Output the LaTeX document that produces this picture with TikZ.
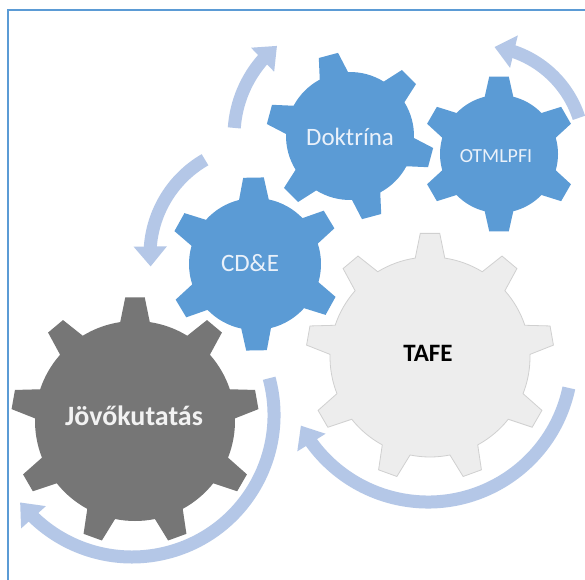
\documentclass[tikz,border=0pt]{standalone}
\usepackage{fontspec}
\setmainfont{Carlito}
\usetikzlibrary{arrows.meta,bending}
\definecolor{gblue}{HTML}{5B9BD5}
\definecolor{gdark}{HTML}{767676}
\definecolor{glight}{HTML}{EDEDED}
\definecolor{glightline}{HTML}{D0D0D0}
\definecolor{arrowblue}{HTML}{B4C7E7}
\definecolor{gtext}{HTML}{EAF1FA}
\definecolor{dtext}{HTML}{F2F2F2}
% #1 teeth, #2 rotation, #3 outer radius, #4 root radius, #5 tip half-angle, #6 base half-angle
\newcommand\gearpath[6]{(#2-#6:#4) \foreach \i [evaluate=\i as \a using #2+(\i-1)*360/#1] in {1,...,#1} { -- (\a-#6:#4) -- (\a-#5:#3) -- (\a+#5:#3) -- (\a+#6:#4) arc[start angle=\a+#6, end angle=\a+360/#1-#6, radius=#4] } -- cycle}
\tikzset{
  cyclearrow/.style={arrowblue, line width=13pt, -{Triangle[width=32pt,length=20pt]}},
  bluelabel/.style={text=gtext, font=\fontsize{25}{30}\selectfont},
}
\begin{document}
\begin{tikzpicture}[x=1pt,y=1pt]
\useasboundingbox (0,0) rectangle (585,579);
\clip (0,0) rectangle (585,579);
\fill[white] (0,0) rectangle (585,579);
\draw[gblue, line width=2.2pt] (8,-20) -- (8,569) -- (600,569);

% centres
\coordinate (cJ) at (135,158);
\coordinate (cT) at (430,222);
\coordinate (cC) at (255,315);
\coordinate (cD) at (350,443);
\coordinate (cO) at (499,425);

% gears
\fill[gdark, shift={(cJ)}] \gearpath{9}{90}{124}{100}{4.5}{8.5};
\filldraw[fill=glight, draw=glightline, line width=0.8pt, shift={(cT)}] \gearpath{9}{90}{124}{100}{4.5}{8.5};
\fill[gblue, shift={(cC)}] \gearpath{6}{91}{87}{66}{6.8}{13};
\fill[gblue, shift={(cD)}] \gearpath{6}{105}{84}{64}{6.8}{13.2};
\fill[gblue, shift={(cO)}] \gearpath{6}{90}{78}{59}{7.2}{14};

% labels
\node[bluelabel] (lD) at (350,442) {Doktrína};
\node[bluelabel] (lC) at (250,316) {CD\&E};
\node[text=gtext, font=\fontsize{20}{24}\selectfont] (lO) at (496,423) {OTMLPFI};
\node[text=dtext, font=\fontsize{28}{33}\selectfont\bfseries] (lJ) at (134,163) {Jövőkutatás};
\node[text=black, font=\fontsize{25}{30}\selectfont\bfseries] (lT) at (428,226) {TAFE};

% cycle arrows
\coordinate (aD) at (350,443);
\coordinate (aC) at (260,324);
\coordinate (aO) at (480,429);
\coordinate (aJ) at (132,164);
\coordinate (aT) at (428,221);
\draw[cyclearrow] ([shift={(176:116)}]aD) arc[start angle=176, end angle=129, radius=116];
\draw[cyclearrow] ([shift={(120:110)}]aC) arc[start angle=120, end angle=186, radius=110];
\draw[cyclearrow] ([shift={(18:104)}]aO) arc[start angle=18, end angle=82, radius=104];
\draw[cyclearrow] ([shift={(15:142)}]aJ) arc[start angle=15, end angle=-142, radius=142];
\draw[cyclearrow] ([shift={(-12:144)}]aT) arc[start angle=-12, end angle=-152, radius=144];
\end{tikzpicture}
\end{document}
